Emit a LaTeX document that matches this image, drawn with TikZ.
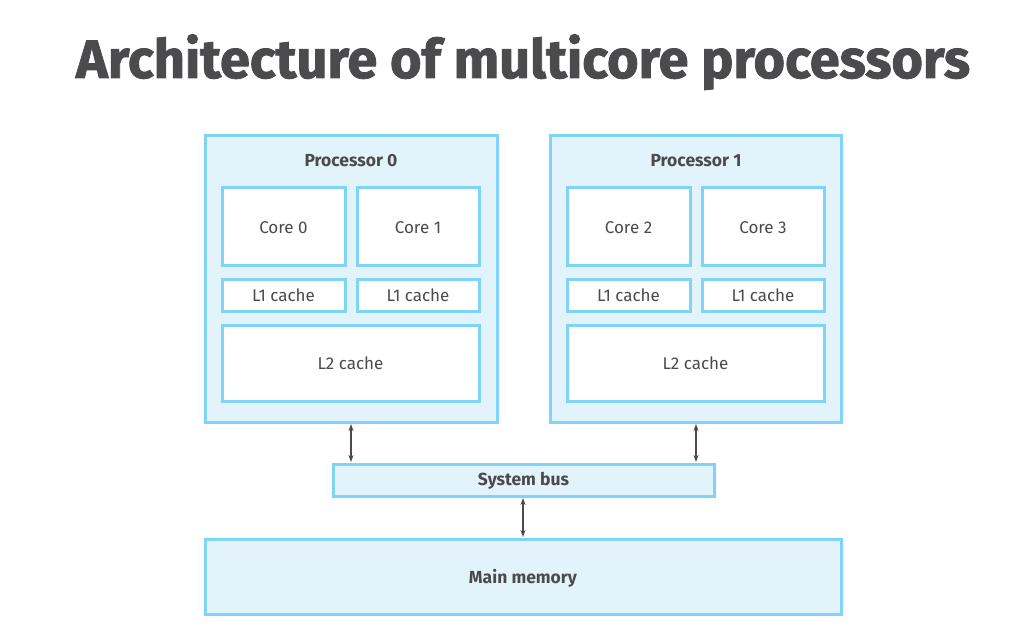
\documentclass[tikz,border=0pt]{standalone}
\usepackage{fontspec}
\setmainfont{Fira Sans}
\newfontfamily\titlefont{Fira Sans}[BoldFeatures={FakeBold=1.6}]
\usetikzlibrary{arrows.meta}
\definecolor{edge}{HTML}{7FD3F7}
\definecolor{pale}{HTML}{E3F3FC}
\definecolor{ink}{HTML}{4B4B4E}
\tikzset{
  box/.style={draw=edge, line width=3pt, fill=pale},
  inner/.style={draw=edge, line width=3pt, fill=white, text=ink, font=\fontsize{17}{19}\selectfont},
  lab/.style={text=ink, font=\bfseries\fontsize{17.5}{19}\selectfont},
  conn/.style={draw=ink, line width=1.2pt, {Stealth[length=7pt,width=5pt]}-{Stealth[length=7pt,width=5pt]}}
}
\begin{document}
\begin{tikzpicture}[x=1pt,y=-1pt]
\useasboundingbox (0,0) rectangle (1011,639);
\node[text=ink, font=\titlefont\bfseries\fontsize{54}{60}\selectfont, anchor=base] (title) at (523,78) {Architecture of multicore processors};
% Processor 0
\draw[box] (205,136) rectangle (497,422);
\coordinate (p0b) at (351,422);
\node[lab] (p0) at (351,161) {Processor 0};
\draw[inner] (222,188) rectangle node[yshift=-1.5pt] (c0) {Core 0} (345,265);
\draw[inner] (357,188) rectangle node[yshift=-1.5pt] (c1) {Core 1} (479,265);
\draw[inner] (222,279) rectangle node (l10) {L1 cache} (345,311);
\draw[inner] (357,279) rectangle node (l11) {L1 cache} (479,311);
\draw[inner] (222,325) rectangle node (l20) {L2 cache} (479,401);
% Processor 1
\draw[box] (550,136) rectangle (841,422);
\coordinate (p1b) at (696,422);
\node[lab] (p1) at (696,161) {Processor 1};
\draw[inner] (567,188) rectangle node[yshift=-1.5pt] (c2) {Core 2} (690,265);
\draw[inner] (702,188) rectangle node[yshift=-1.5pt] (c3) {Core 3} (824,265);
\draw[inner] (567,279) rectangle node (l12) {L1 cache} (690,311);
\draw[inner] (702,279) rectangle node (l13) {L1 cache} (824,311);
\draw[inner] (567,325) rectangle node (l21) {L2 cache} (824,401);
% bus
\draw[box] (333,464) rectangle (714,496);
\node[lab] (bus) at (523.5,481) {System bus};
\coordinate (bus0) at (351,464);
\coordinate (bus1) at (696,464);
\coordinate (busb) at (523,496);
% memory
\draw[box] (205,539) rectangle (841,614);
\node[lab] (mem) at (523,578) {Main memory};
\coordinate (memt) at (523,539);
% connectors
\draw[conn] ([yshift=-2pt]p0b) -- ([yshift=2pt]bus0);
\draw[conn] ([yshift=-2pt]p1b) -- ([yshift=2pt]bus1);
\draw[conn] ([yshift=-2pt]busb) -- ([yshift=2pt]memt);
\end{tikzpicture}
\end{document}
